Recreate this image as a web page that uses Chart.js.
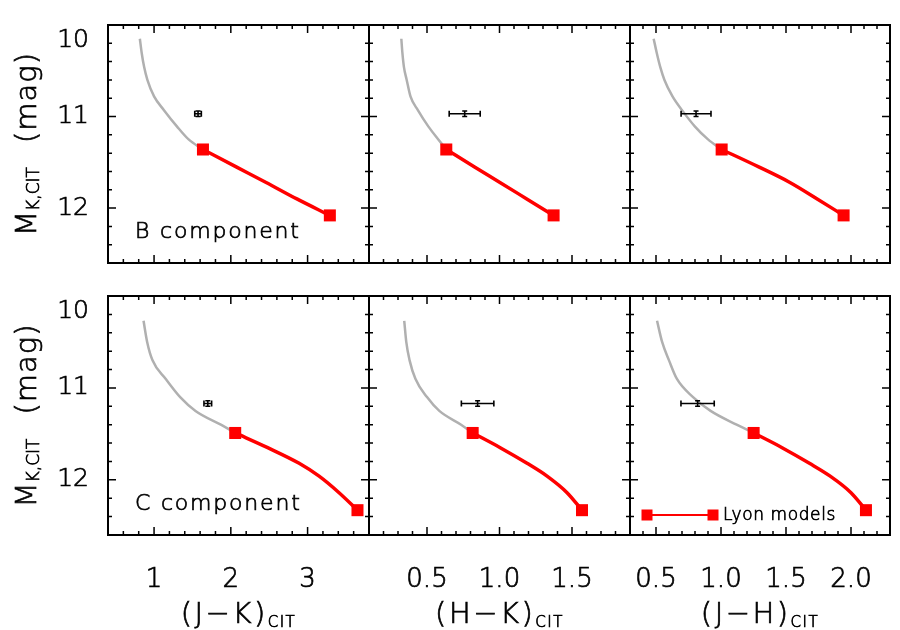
<!DOCTYPE html>
<html>
<head>
<meta charset="utf-8">
<script src="https://cdn.jsdelivr.net/npm/chart.js@4.4.1/dist/chart.umd.min.js"></script>
<style>
  html, body { margin: 0; padding: 0; background: #fff; }
  #wrap { position: relative; width: 900px; height: 630px; }
  #wrap canvas { position: absolute; left: 0; top: 0; }
</style>
</head>
<body>
<div id="wrap"></div>
<script>
// y axis: M_K,CIT, shared by all six panels (reversed)
const yMin = 10, yMax = 12.6;
const yMajor = [10, 11, 12];
const yMinorStep = 0.2;

// x axes, one per column
const xRanges = [[0.4, 3.8], [0.1, 1.9], [0.3, 2.3]];
const xMajor = [[1, 2, 3], [0.5, 1.0, 1.5], [0.5, 1.0, 1.5, 2.0]];
const xMinorStep = [0.2, 0.1, 0.1];
const xDecimals = [0, 1, 1];
const xTitles = ['(J−K)', '(H−K)', '(J−H)'];

// Lyon model track for the B component (gray part, then red part)
const bGrayMK = [10.15, 10.3, 10.46, 10.6, 10.78, 10.93, 11.11, 11.25, 11.36];
const bGrayJK = [0.815, 0.838, 0.871, 0.913, 1.0, 1.129, 1.30, 1.45, 1.637];
const bGrayHK = [0.323, 0.330, 0.341, 0.360, 0.386, 0.437, 0.51, 0.578, 0.633];
const bGrayJH = [0.482, 0.505, 0.533, 0.565, 0.627, 0.700, 0.800, 0.900, 1.005];
const bRedMK = [11.36, 11.55, 11.72, 11.9, 12.08];
const bRedJK = [1.637, 2.07, 2.46, 2.86, 3.29];
const bRedHK = [0.633, 0.828, 1.003, 1.188, 1.373];
const bRedJH = [1.005, 1.29, 1.53, 1.74, 1.943];

// Lyon model track for the C component
const cGrayMK = [10.27, 10.5, 10.7, 10.9, 11.1, 11.25, 11.4, 11.49];
const cGrayJK = [0.863, 0.91, 0.98, 1.15, 1.34, 1.54, 1.87, 2.057];
const cGrayHK = [0.343, 0.357, 0.38, 0.42, 0.5, 0.585, 0.735, 0.815];
const cGrayJH = [0.508, 0.547, 0.60, 0.66, 0.785, 0.92, 1.12, 1.251];
const cRedMK = [11.49, 11.65, 11.82, 11.96, 12.14, 12.33];
const cRedJK = [2.057, 2.48, 2.89, 3.15, 3.41, 3.65];
const cRedHK = [0.815, 1.005, 1.19, 1.328, 1.466, 1.569];
const cRedJH = [1.251, 1.47, 1.68, 1.84, 2.00, 2.115];

// measured points with error bars (colors in J-K, H-K, J-H order)
const bObsMK = 10.97, bObsMKErr = 0.03;
const bObsColor = [1.573, 0.76, 0.808];
const bObsColorErr = [0.043, 0.107, 0.115];
const cObsMK = 11.17, cObsMKErr = 0.03;
const cObsColor = [1.70, 0.849, 0.82];
const cObsColorErr = [0.05, 0.112, 0.128];

const rows = [
  { label: 'B component', grayMK: bGrayMK, gray: [bGrayJK, bGrayHK, bGrayJH], redMK: bRedMK, red: [bRedJK, bRedHK, bRedJH],
    obsMK: bObsMK, obsMKErr: bObsMKErr, obs: bObsColor, obsErr: bObsColorErr },
  { label: 'C component', grayMK: cGrayMK, gray: [cGrayJK, cGrayHK, cGrayJH], redMK: cRedMK, red: [cRedJK, cRedHK, cRedJH],
    obsMK: cObsMK, obsMKErr: cObsMKErr, obs: cObsColor, obsErr: cObsColorErr }
];

// panel frames in page pixels
const colEdges = [108, 369, 630, 890];
const rowEdges = [[25, 263], [296, 535]];
const W = 900, H = 630;
const FONT = "'DejaVu Sans', sans-serif";
const TEXT_STROKE = 0.7;

const zip = (xs, ys) => xs.map((v, i) => ({ x: v, y: ys[i] }));

function tickValues(min, max, step) {
  const out = [];
  for (let k = Math.ceil(min / step - 1e-9); k <= Math.floor(max / step + 1e-9); k++) out.push(+(k * step).toFixed(6));
  return out;
}

// draws a run of text parts; parts: {t, size, dy, sp} or {gap}
function textRun(ctx, parts, x, y, center) {
  const widths = parts.map(p => {
    if (p.gap) return p.gap;
    ctx.font = `200 ${p.size}px ${FONT}`;
    ctx.letterSpacing = (p.sp || 0) + 'px';
    return ctx.measureText(p.t).width;
  });
  let cx = center ? x - widths.reduce((a, b) => a + b, 0) / 2 : x;
  ctx.lineWidth = TEXT_STROKE;
  ctx.strokeStyle = ctx.fillStyle;
  parts.forEach((p, i) => {
    if (!p.gap) {
      ctx.font = `200 ${p.size}px ${FONT}`;
      ctx.letterSpacing = (p.sp || 0) + 'px';
      ctx.fillText(p.t, cx, y + (p.dy || 0));
      ctx.strokeText(p.t, cx, y + (p.dy || 0));
    }
    cx += widths[i];
  });
  ctx.letterSpacing = '0px';
}

const panelPlugin = {
  id: 'panel',
  afterDatasetsDraw(chart, args, o) {
    const { ctx, chartArea: a, scales: { x, y } } = chart;
    const row = rows[o.row];
    ctx.save();
    ctx.strokeStyle = '#000';
    ctx.fillStyle = '#000';

    // error bars of the measured point
    const px = x.getPixelForValue(row.obs[o.col]);
    const py = y.getPixelForValue(row.obsMK);
    const x0 = x.getPixelForValue(row.obs[o.col] - row.obsErr[o.col]);
    const x1 = x.getPixelForValue(row.obs[o.col] + row.obsErr[o.col]);
    const y0 = y.getPixelForValue(row.obsMK - row.obsMKErr);
    const y1 = y.getPixelForValue(row.obsMK + row.obsMKErr);
    ctx.lineWidth = 1.6;
    ctx.beginPath();
    ctx.moveTo(x0, py); ctx.lineTo(x1, py);
    ctx.moveTo(x0, py - 3); ctx.lineTo(x0, py + 3);
    ctx.moveTo(x1, py - 3); ctx.lineTo(x1, py + 3);
    ctx.moveTo(px, y0); ctx.lineTo(px, y1);
    ctx.moveTo(px - 2.5, y0); ctx.lineTo(px + 2.5, y0);
    ctx.moveTo(px - 2.5, y1); ctx.lineTo(px + 2.5, y1);
    ctx.stroke();

    // frame with inward ticks on all four sides
    ctx.lineWidth = 2;
    ctx.strokeRect(a.left, a.top, a.right - a.left, a.bottom - a.top);
    ctx.lineWidth = 1.5;
    ctx.beginPath();
    const [xmin, xmax] = xRanges[o.col];
    tickValues(xmin, xmax, xMinorStep[o.col]).forEach(v => {
      const len = xMajor[o.col].some(m => Math.abs(m - v) < 1e-6) ? 8 : 4;
      const p = x.getPixelForValue(v);
      ctx.moveTo(p, a.bottom); ctx.lineTo(p, a.bottom - len);
      ctx.moveTo(p, a.top); ctx.lineTo(p, a.top + len);
    });
    tickValues(yMin, yMax, yMinorStep).forEach(v => {
      const len = yMajor.some(m => Math.abs(m - v) < 1e-6) ? 8 : 4;
      const p = y.getPixelForValue(v);
      ctx.moveTo(a.left, p); ctx.lineTo(a.left + len, p);
      ctx.moveTo(a.right, p); ctx.lineTo(a.right - len, p);
    });
    ctx.stroke();

    ctx.textBaseline = 'alphabetic';
    ctx.textAlign = 'left';
    // component label and y title on the left column
    if (o.col === 0) {
      textRun(ctx, [{ t: row.label, size: 22, sp: 1.8 }], a.left + 27, a.bottom - 25, false);
      ctx.save();
      ctx.translate(36, (a.top + a.bottom) / 2);
      ctx.rotate(-Math.PI / 2);
      textRun(ctx, [{ t: 'M', size: 29 }, { t: 'K,CIT', size: 17, dy: 3 }, { gap: 24 }, { t: '(mag)', size: 29, sp: 1 }], 0, 0, true);
      ctx.restore();
    }
    // x titles on the bottom row
    if (o.row === 1) {
      textRun(ctx, [{ t: xTitles[o.col], size: 29, sp: 2.5 }, { t: 'CIT', size: 15, dy: 4, sp: 1.5 }], (a.left + a.right) / 2, 623, true);
    }
    // legend, bottom right panel
    if (o.row === 1 && o.col === 2) {
      const ly = a.bottom - 20, lx0 = a.left + 17, lx1 = a.left + 83;
      ctx.strokeStyle = '#ff0000';
      ctx.fillStyle = '#ff0000';
      ctx.lineWidth = 2;
      ctx.beginPath(); ctx.moveTo(lx0, ly); ctx.lineTo(lx1, ly); ctx.stroke();
      ctx.fillRect(lx0 - 5.5, ly - 5.5, 11, 11);
      ctx.fillRect(lx1 - 5.5, ly - 5.5, 11, 11);
      ctx.fillStyle = '#000';
      textRun(ctx, [{ t: 'Lyon models', size: 17, sp: 0.6 }], a.left + 93, a.bottom - 15, false);
    }
    ctx.restore();
  }
};

const wrap = document.getElementById('wrap');
rows.forEach((row, r) => {
  for (let c = 0; c < 3; c++) {
    const canvas = document.createElement('canvas');
    canvas.width = W; canvas.height = H;
    wrap.appendChild(canvas);
    const red = zip(row.red[c], row.redMK);
    // axis boxes hold the tick labels; padding puts the frame where it belongs
    const yBox = c === 0 ? colEdges[0] : 0;
    const xBox = r === 1 ? H - rowEdges[1][1] : 0;
    new Chart(canvas, {
      type: 'scatter',
      data: {
        datasets: [
          {
            data: red, showLine: true, cubicInterpolationMode: 'monotone',
            borderColor: '#ff0000', borderWidth: 3.5,
            pointStyle: 'rect', pointBorderWidth: 0, pointBackgroundColor: '#ff0000',
            pointRadius: ctx => (ctx.dataIndex === 0 || ctx.dataIndex === red.length - 1) ? 8.5 : 0
          },
          {
            data: zip(row.gray[c], row.grayMK), showLine: true, cubicInterpolationMode: 'monotone',
            borderColor: '#b0b0b0', borderWidth: 2.5, pointRadius: 0
          }
        ]
      },
      options: {
        responsive: false,
        animation: false,
        events: [],
        layout: { padding: { left: colEdges[c] - yBox, right: W - colEdges[c + 1], top: rowEdges[r][0], bottom: H - rowEdges[r][1] - xBox } },
        plugins: { legend: { display: false }, tooltip: { enabled: false }, panel: { row: r, col: c } },
        scales: {
          x: {
            type: 'linear', min: xRanges[c][0], max: xRanges[c][1],
            grid: { display: false }, border: { display: false },
            afterBuildTicks: s => { s.ticks = xMajor[c].map(v => ({ value: v })); },
            afterFit: s => { s.height = xBox; s.paddingLeft = s.paddingRight = s.paddingTop = s.paddingBottom = 0; },
            ticks: {
              display: r === 1, padding: 22, color: '#000', maxRotation: 0, autoSkip: false,
              textStrokeColor: '#000', textStrokeWidth: TEXT_STROKE,
              font: { family: FONT, size: 26, weight: '200' },
              callback: v => v.toFixed(xDecimals[c])
            }
          },
          y: {
            type: 'linear', reverse: true, min: yMin, max: yMax,
            grid: { display: false }, border: { display: false },
            afterBuildTicks: s => { s.ticks = yMajor.map(v => ({ value: v })); },
            afterFit: s => { s.width = yBox; s.paddingLeft = s.paddingRight = s.paddingTop = s.paddingBottom = 0; },
            ticks: {
              display: c === 0, padding: 11, color: '#000', autoSkip: false,
              textStrokeColor: '#000', textStrokeWidth: TEXT_STROKE,
              font: { family: FONT, size: 25, weight: '200' },
              // the top label sits just inside the frame, as in the original
              callback: v => v === yMin ? ['', String(v)] : String(v)
            }
          }
        }
      },
      plugins: [panelPlugin]
    });
  }
});
</script>
</body>
</html>
